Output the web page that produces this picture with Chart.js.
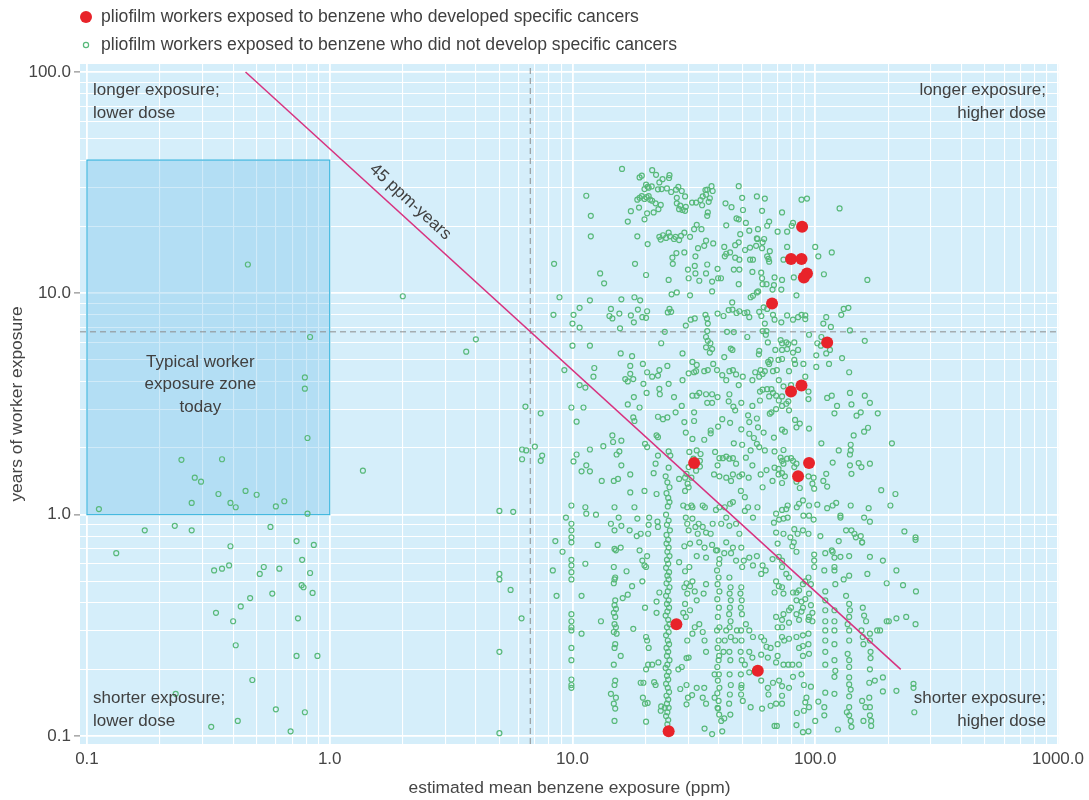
<!DOCTYPE html>
<html>
<head>
<meta charset="utf-8">
<script src="https://cdn.jsdelivr.net/npm/chart.js@4/dist/chart.umd.min.js"></script>
<style>
html, body { margin: 0; padding: 0; background: #fff; }
</style>
</head>
<body>
<canvas id="grafico" width="1089" height="800"></canvas>
<script>
// rótulos
const legendLabels = [
    "pliofilm workers exposed to benzene who developed specific cancers",
    "pliofilm workers exposed to benzene who did not develop specific cancers"
];
const xTickLabels = ["0.1", "1.0", "10.0", "100.0", "1000.0"];
const yTickLabels = ["0.1", "1.0", "10.0", "100.0"];
const xTitle = "estimated mean benzene exposure (ppm)";
const yTitle = "years of worker exposure";
const notaSupEsq = ["longer exposure;", "lower dose"];
const notaSupDir = ["longer exposure;", "higher dose"];
const notaInfEsq = ["shorter exposure;", "lower dose"];
const notaInfDir = ["shorter exposure;", "higher dose"];
const zonaTexto = ["Typical worker", "exposure zone", "today"];
const linhaTexto = "45 ppm-years";

// linha de 45 ppm-anos
const linhaPpm = [0.45, 225];
const linhaAnos = [100, 0.2];
// linhas tracejadas (raiz de 45)
const refPpm = 6.7;
const refAnos = 6.7;
// zona típica de hoje
const zonaPpm = [0.1, 1.0];
const zonaAnos = [1.0, 40];

// trabalhadores com câncer
const cancerPpm = [88.3, 79.5, 87.8, 92.5, 89.8, 66.4, 112, 79.5, 87.8, 94.3, 85, 31.7, 26.8, 58, 24.9];
const cancerAnos = [20, 14.3, 14.3, 12.3, 11.8, 9.0, 6.0, 3.6, 3.83, 1.71, 1.49, 1.71, 0.32, 0.197, 0.105];

// trabalhadores sem câncer [ppm, anos]
const semCancer = [
[16,36.5],[21.3,36],[18.9,33.4],[19.3,34],[22.1,34.3],[23.5,32.8],[25.1,34.2],[25,33.2],[22.8,31.7],[20.1,31],[20.4,30.3],[19.8,29.6],[20.6,30],[21.2,30.4],[22.5,29.5],[23.3,29.6],[24.5,29.8],[25.5,28.7],[26.7,29.4],[27.3,30.3],[28.2,29],[29.1,27.4],[26.9,27],[11.4,27.6],[18.9,27],[19.3,27.5],[19.8,26.7],[20.2,27.2],[20.9,26.5],[20.6,27.5],[21.3,26.2],[22,25.5],[23.1,25.1],[22.6,24],[21.6,23.2],[18.8,24.4],[17.4,23.5],[18.5,26.5],[20.3,23],[19.8,21.6],[16.9,21.1],[26.9,25.5],[27.8,24.9],[27.5,24],[28.4,23.8],[29.1,23.6],[29.3,24.6],[31.1,25.7],[32.3,25.7],[33.7,26.4],[34.4,27.4],[35.5,27.9],[36.8,26.9],[35.9,29.4],[37.4,30.5],[35.3,29.3],[37.8,29],[36.4,25.9],[34.2,25],[36.1,23.2],[35.9,22.4],[32.5,20.4],[31.7,19.5],[34,19.5],[11.9,22.4],[11.9,18.1],[48.4,30.5],[50,27],[42.7,25.5],[45.2,24.5],[50.4,23.8],[48.4,21.6],[47.4,21.8],[51.8,20.8],[43,20.3],[49.1,18.5],[53.5,19.2],[58.1,19.5],[57.8,17.6],
[22.8,18],[23.1,17.5],[23.6,18.3],[24.3,17.8],[24.9,18.8],[25.2,18.1],[26.2,17.6],[26.6,18],[27.5,17.4],[28,18.2],[28.9,18.8],[30.5,18],[18.5,18.1],[20.4,16.7],[32.9,16],[34.9,16.4],[35.5,17.3],[38,16.8],[42.2,16.2],[43,15.1],[42.4,14.7],[44.6,15.3],[46.8,16.5],[48.4,17],[46.8,14.5],[48.7,14.2],[51.4,15.7],[53.9,16.1],[57.1,16.4],[57.5,17.7],[26.8,15.2],[28.9,15.3],[25.8,14.5],[25.9,13.6],[32.1,14.7],[35.9,13.5],[39.6,12.9],[29.9,12.8],[31.9,13.3],[32.1,12.3],[30.1,11.7],[33.3,11.4],[35.5,12.3],[37.6,11.3],[39.8,11.7],[40.9,11.7],[37.6,10.2],[46.2,12.8],[48.7,12.8],[48.4,11],[53.9,14.2],[55.4,14.2],[55.1,12.5],[18.1,13.6],[20.1,12.1],[13,12.3],[13.5,11.1],[24.9,11.5],[25.6,9.9],[26.9,10.1],[30.5,9.8],
[8.84,9.6],[11.8,9.3],[15.9,9.4],[18,9.6],[19,9.3],[10.7,8.6],[10.1,8.0],[14.4,8.5],[15.6,8.1],[14.2,7.9],[14.6,7.7],[17.4,7.95],[18.6,8.45],[17.9,7.4],[19.4,7.8],[20.1,7.75],[20.3,8.3],[25.1,8.5],[24.7,8.2],[25.5,8.25],[10,7.3],[10.7,7.0],[15.7,6.95],[24,6.7],[29.3,7.15],[30.7,7.6],[31.9,7.7],[35.3,8.0],[35.8,7.7],[36.1,7.3],[35.9,6.75],[39.6,8.1],[41.9,7.9],[44,8.4],[45.5,9.1],[45.6,8.45],[47.4,8.15],[48.7,8.3],[51.1,8.15],[52.5,8.2],[53.5,7.8],[54.2,9.6],[55.4,9.75],[57.5,10.1],[58.2,10.2],[43.3,6.7],[46.2,6.68],[52.5,6.35],[35.5,6.35],[36.1,6.1],[37,5.95],[35.5,5.7],[37.6,5.6],[36.8,5.4],[10,5.8],[11.8,5.8],[23.2,5.95],[15.8,5.35],[17.6,5.2],[28.4,5.35],[44.9,5.63],[45.6,5.55],[42.2,5.15],[58.8,5.5],[58.6,5.3],[8.4,13.6],[8.35,8.0],
[57.5,27.4],[62,26.8],[60.4,23.6],[73,23.2],[64.6,21.1],[63.4,20.2],[70,19],[76.6,19],[80,20.2],[81,20.8],[87.8,26.5],[92.5,26.8],[126,24.2],[61.6,17.6],[60.7,17],[60.4,16],[65,15.5],[76.6,16.2],[100,16.2],[103,14.7],[117,15.3],[63.4,14.7],[64.2,14.3],[64.6,13.9],[74,14.2],[59.9,12.4],[60.4,11.7],[68,11.8],[73,11.5],[81.6,11.8],[108.6,12.2],[164,11.5],[60.7,11.0],[63,11.0],[67.6,10.9],[66.7,10.4],[72.5,10.4],[83.7,9.8],[61.3,8.65],[58.8,8.25],[60,7.9],[63.4,8.5],[67,8.0],[68,7.6],[72.5,7.4],[76.6,7.95],[81,7.6],[85,7.8],[87.8,8.0],[91,7.95],[91,7.65],[62,7.3],[108,7.3],[111,7.8],[116,7.05],[128,8.0],[131,8.5],[137,8.6],[139,6.8],[60.7,6.75],[63,6.75],[62.6,6.5],[63.8,6.0],[72,6.15],[73,5.95],[76,6.0],[77.5,5.9],[82,6.0],[94.3,6.5],[106,6.35],[102,5.95],[105.5,5.8],[160,6.1],[68.5,5.55],[73,5.55],[76.6,5.6],[81,5.4],[85,5.55],[101,5.25],[111,5.35],[115,5.55],[129,5.1],[65.5,5.0],[70.6,5.0],[73,5.05],[82,5.0],
[9.26,4.5],[12.3,4.6],[12.2,4.2],[10.7,3.85],[11.3,3.75],[17.3,4.7],[17.3,4.33],[16.5,4.1],[16.9,4.0],[17.8,4.1],[19.5,4.8],[20.3,4.4],[21.3,4.2],[22.5,4.25],[22.8,4.5],[24.6,4.7],[19.6,3.9],[20.2,3.55],[22.8,3.7],[22.9,3.5],[24.9,3.9],[17.9,3.4],[16.9,3.15],[18.9,3.05],[9.9,3.05],[11.1,3.05],[10.4,2.63],[17.8,2.75],[18,2.65],[22.5,2.77],[23.6,2.7],[24.6,2.75],[26.6,2.9],[26.2,3.4],[28.4,4.05],[30.1,4.35],[31.7,4.4],[32.3,4.45],[31.2,4.9],[32.5,4.75],[28.2,3.1],[28.9,2.62],[31.7,2.9],[31.7,2.65],[31.2,3.45],[32.5,3.45],[33.3,3.55],[34.9,4.45],[36.1,4.5],[39.4,4.5],[38,4.8],[35.5,3.5],[37.6,3.5],[39.6,3.4],[37.6,3.2],[35.9,3.2],[41.4,4.27],[43,4.05],[44.3,4.45],[45.8,4.5],[47.2,4.3],[48.4,3.85],[44.3,3.5],[44,3.25],[46,3.08],[46.8,2.96],[41.4,2.7],[44.6,2.6],[37.1,2.4],[39.8,2.5],[49.6,2.43],[52.9,2.81],[55.1,3.1],[55.1,4.05],[49.6,3.2],[50.3,4.2],[56.6,4.4],[53.5,2.62],[57.5,2.72],
[14.6,2.28],[14.7,2.13],[15.9,2.16],[11.8,1.97],[13.4,2.04],[10.1,1.74],[10.4,1.87],[10.9,1.57],[11.4,1.67],[11.8,1.57],[13.2,1.42],[14.8,1.42],[15.4,1.45],[15.6,1.93],[15.2,1.87],[15.9,1.67],[17.3,1.52],[19.9,2.09],[20.3,2.02],[22.2,2.28],[22.5,2.24],[22,1.7],[21.6,1.54],[22.5,1.85],[24.9,1.93],[25.3,1.85],[24.9,1.63],[17.3,1.26],[19.8,1.28],[22.2,1.24],[14.9,1.08],[14.4,0.91],[14.9,0.85],[11.3,1.08],[11.4,1.01],[12.5,1.0],[9.9,1.1],[9.4,0.97],[9.9,0.91],[9.9,0.85],[9.9,0.79],[9.9,0.75],[18,1.08],[18.5,0.96],[15.5,0.97],[15.9,0.89],[20.7,0.97],[20.6,0.9],[22.4,0.93],[22.5,0.88],[17.2,0.85],[18.4,0.8],[19.1,0.82],[20.5,0.82],
[24.2,1.49],[24.6,1.4],[25.1,1.33],[24.4,1.25],[24.8,1.19],[25.1,1.14],[24.7,1.09],[24.3,1.0],[24.9,0.94],[24.5,0.9],[25.2,0.85],[24.4,0.81],[24.8,0.77],
[27.5,1.45],[29.1,1.47],[29.8,1.38],[30.1,1.33],[29.1,1.28],[28.6,1.1],[29.7,1.08],[30.9,1.1],[31.2,1.08],[29.3,0.97],[31.2,0.96],[29.7,0.91],[32.1,0.88],[30.1,0.85],[32.8,0.82],[34.4,1.1],[35.1,1.08],[33.1,0.91],[34.4,0.88],[35.5,0.83],[37.1,0.82],[37.8,0.91],[39,1.05],[40.3,1.08],[42.4,1.08],[44.6,1.12],[45.8,1.14],[43,0.97],[41,0.91],[44.3,0.89],[47.2,0.91],[48.7,0.82],
[30.3,1.92],[32.5,1.95],[33.7,1.88],[33.5,1.75],[33.5,1.65],[30.1,1.64],[32.3,1.58],[29.5,1.53],[30.9,1.47],[31.5,1.79],[38.7,1.92],[40.3,1.8],[41.6,1.8],[43,1.83],[44.3,1.79],[45.8,1.8],[47.2,1.7],[39.6,1.67],[38.3,1.52],[40.3,1.49],[43,1.47],[45.8,1.52],[48.7,1.49],[50,1.52],[45,1.42],[49.4,1.28],[51.3,1.2],[53.2,1.47],[55.1,1.67],[51.8,1.81],[54.2,1.95],[50,2.07],[46.2,2.1],[34.9,2.18],[37.1,2.33],[29.3,2.35],[31.2,2.2],[53.5,2.32],[55.9,2.22],[58.1,2.48],[57.5,2.09],[51.3,1.04],[52.9,1.08],[55.4,0.97],[57.8,1.08],
[59.6,4.5],[58.8,4.2],[60.7,4.32],[62,4.45],[64.6,4.8],[64,4.9],[67,4.45],[69.5,4.5],[70.8,4.05],[74,3.8],[78,4.45],[82.6,4.8],[89.4,4.8],[91,4.2],[93.8,3.6],[93.8,3.33],[101,4.65],[114,4.8],[138,4.4],[60.7,3.67],[63.4,3.69],[66,3.69],[67,3.55],[64.6,3.42],[69,3.45],[73,3.42],[70.8,3.28],[73,3.1],[76,3.17],[77.5,3.25],[59.2,3.28],[59.2,3.6],[66,2.9],[69,3.0],[65,2.86],[78,2.96],[79.5,3.85],
[82.6,2.68],[86.4,2.58],[94.3,2.45],[83.7,2.48],[73,2.42],[75,2.37],[67.6,2.23],[61.3,2.35],[58.8,2.02],[62,1.95],[68,1.93],[74,1.96],[72,1.81],[73,1.75],[76.6,1.79],[79.5,1.8],[81,1.75],[83.7,1.7],[82,1.64],[74,1.7],[70.6,1.61],[68,1.63],[63,1.59],[59.6,1.52],[60.7,1.33],[66.7,1.42],[70.6,1.52],[73,1.54],[75,1.49],[73,1.39],[83.7,1.41],[86.4,1.32],[93.8,1.49],[98.5,1.47],[97.4,1.38],[99,1.31],[102,1.11],[94.3,1.1],[89,1.16],[85.8,1.12],[84,1.08],[77,1.1],[76,1.06],[73,1.05],[69,1.01],[71,0.95],[74,0.96],[77,0.97],[67.6,0.92],[69,0.83],[74,0.82],[79,0.79],[82,0.86],[84.6,0.82],[89,0.85],[93.8,0.82],[98.5,0.95],[94.3,0.99],[89.4,0.99],
[106,2.1],[112,3.37],[117,3.45],[123,3.1],[120,2.87],[139,3.55],[141,3.15],[148,2.8],[154,2.9],[168,3.2],[160,3.45],[181,2.87],[159,2.37],[165,2.47],[144,2.28],[125,1.95],[118,1.72],[140,2.07],[140,1.95],[139,1.87],[139,1.67],[141,1.53],[151,1.71],[155,1.64],[168,1.7],[108,1.42],[111,1.53],[112,1.34],[122,1.13],[118,1.1],[112,1.07],[127,0.99],[127,0.97],[140,1.1],[166,1.07],[159,0.97],[168,0.93],[187,1.29],[214,1.24],[204,1.1],[207,2.1],[134,0.85],[141,0.85],[145,0.82],[154,0.8],[156,0.75],[147,0.79],[105,0.8],[125,0.76],[117,0.69],[259,0.79],[259,0.77],[233,0.84],
[9.9,0.625],[9.9,0.59],[9.9,0.55],[9.9,0.51],[9.9,0.355],[9.9,0.33],[9.9,0.31],[9.9,0.3],[9.9,0.25],[9.9,0.22],[9.9,0.18],[9.9,0.17],[9.9,0.165],[9.1,0.68],[10.9,0.43],[11.3,0.6],[10.9,0.29],[13.1,0.33],[12.7,0.73],
[14.9,0.7],[15.1,0.69],[14.8,0.58],[15,0.52],[14.9,0.51],[14.8,0.49],[15,0.41],[14.9,0.39],[15.1,0.375],[14.8,0.36],[15,0.345],[14.9,0.32],[15.1,0.31],[14.8,0.295],[15,0.26],[14.9,0.25],[14.8,0.21],[15,0.178],[14.9,0.17],[15.1,0.149],[14.8,0.14],[15,0.133],[14.9,0.117],[15.8,0.23],[14.4,0.155],[15.2,0.29],[16.1,0.42],[16.9,0.435],[17.6,0.475],[16.7,0.555],[17.8,0.305],
[18.9,0.69],[19.4,0.62],[19.8,0.59],[20.1,0.58],[19.4,0.5],[20.3,0.65],[19.9,0.38],[20.1,0.28],[20.3,0.27],[20.6,0.25],[20.1,0.2],[20.5,0.21],[19.1,0.174],[19.6,0.174],[19.5,0.149],[19.9,0.14],[20.4,0.141],[20.1,0.116],[15.8,0.71],[22.8,0.445],[22.2,0.405],[22.2,0.36],[21.3,0.21],[22.6,0.215],[22,0.17],[21.7,0.175],[23.2,0.136],[23.1,0.13],[24,0.134],
[24.4,0.74],[24.9,0.71],[24.6,0.68],[25.1,0.65],[24.5,0.625],[24.8,0.6],[24.3,0.575],[25,0.55],[24.6,0.53],[24.9,0.51],[24.4,0.49],[25.1,0.47],[24.7,0.45],[24.3,0.43],[24.9,0.41],[24.5,0.395],[25,0.38],[24.6,0.365],[24.2,0.35],[24.8,0.335],[25.1,0.32],[24.5,0.31],[24.9,0.295],[24.3,0.285],[24.7,0.27],[25,0.26],[24.4,0.25],[24.8,0.24],[24.5,0.23],[25.1,0.22],[24.6,0.21],[24.2,0.203],[24.9,0.195],[24.5,0.187],[24.8,0.18],[24.3,0.172],[24.7,0.165],[25,0.158],[24.4,0.152],[24.8,0.146],[24.5,0.14],[24.9,0.134],[24.6,0.128],[24.3,0.123],[24.8,0.118],[24.6,0.113],
[27.5,0.61],[28.9,0.72],[30.5,0.74],[32.5,0.65],[33.3,0.75],[35,0.71],[35.5,0.64],[37.6,0.73],[39,0.69],[40.3,0.63],[42.2,0.67],[43,0.75],[45,0.67],[45.8,0.71],[49.6,0.71],[50.8,0.62],[53.5,0.64],[57.5,0.65],[55.4,0.59],[50,0.58],[47.2,0.62],[29.1,0.555],[30.3,0.58],[29.5,0.49],[28.9,0.47],[30.5,0.475],[31.2,0.5],[29.7,0.44],[31.9,0.45],[34.7,0.44],[35.5,0.485],[32.5,0.41],[29.1,0.395],[28.6,0.36],[30.5,0.37],[29.3,0.345],
[39.5,0.69],[40.2,0.6],[39.4,0.56],[40,0.52],[39.6,0.485],[40.3,0.45],[39.5,0.415],[40.1,0.38],[39.7,0.345],[40.3,0.31],[39.4,0.3],[40,0.27],[39.6,0.25],[40.2,0.23],[39.5,0.205],[40.1,0.19],[39.7,0.178],[40.3,0.165],[39.5,0.156],[40,0.144],[39.6,0.134],[40.2,0.125],
[44.3,0.52],[44.8,0.47],[44.4,0.44],[44.9,0.41],[44.5,0.38],[44.2,0.355],[44.8,0.33],[44.4,0.31],[44.9,0.28],[44.3,0.24],[44.7,0.22],[44.4,0.19],[44.9,0.17],[44.5,0.154],[44.2,0.14],[44.7,0.125],
[49.6,0.47],[49.2,0.44],[49.8,0.41],[49.4,0.38],[49.9,0.355],[49.5,0.3],[49.7,0.27],[49.3,0.24],[49.8,0.22],[49.4,0.19],[49.7,0.17],[49.5,0.154],
[33.3,0.32],[34.4,0.295],[35,0.27],[35.5,0.24],[31.9,0.31],[29.7,0.27],[31.2,0.29],[29.5,0.225],[30.1,0.226],[28.2,0.205],[27.3,0.2],[29.5,0.17],[27.8,0.163],[29.9,0.149],[29.5,0.139],[31.1,0.153],[32.5,0.165],[34.9,0.165],[34.4,0.149],[35.5,0.14],[35,0.108],[37.6,0.102],[41.4,0.105],[42.2,0.12],[41,0.117],[39.8,0.133],[38.5,0.149],[38.5,0.19],[40,0.22],[41.9,0.24],[42.4,0.27],[43,0.3],[46.8,0.27],[47.6,0.3],[51.8,0.32],[53.5,0.3],[55.4,0.28],[53.5,0.24],[55.1,0.226],[51.3,0.21],[53.5,0.194],[56.6,0.194],[54.2,0.135],[50.3,0.144],[49.6,0.165],
[70,0.74],[80.5,0.72],[83.7,0.68],[81.6,0.75],[99,0.66],[99,0.62],[99,0.58],[110,0.67],[118,0.68],[120,0.64],[127,0.645],[138,0.65],[156,0.75],[168,0.645],[190,0.62],[216,0.56],[230,0.48],[260,0.45],[197,0.49],[164,0.54],[138,0.53],[131,0.51],[134,0.43],[109,0.56],[120,0.58],[120,0.56],[110,0.45],[121,0.485],
[60.7,0.59],[62.5,0.56],[59.9,0.54],[66.7,0.63],[70.8,0.645],[73,0.62],[73,0.58],[76,0.54],[78,0.52],[69,0.5],[70.8,0.475],[68,0.445],[73,0.47],[74,0.44],[81,0.445],[83.7,0.445],[85.8,0.455],[89,0.485],[91,0.5],[93.8,0.52],[96,0.485],[94.3,0.44],[91,0.415],[87.8,0.405],[83.7,0.41],[79.5,0.38],[89,0.38],[96,0.39],[97.4,0.36],[94.3,0.345],[87.8,0.365],[83.7,0.355],[78,0.37],[74,0.355],[73,0.335],[69,0.345],[70,0.31],[73,0.31],[78,0.325],[85.8,0.335],[93.8,0.335],[97.4,0.33],[93.8,0.29],[89,0.285],[83.7,0.28],[78,0.275],[73,0.28],[74.5,0.27],[70,0.26],[65.5,0.25],[63,0.253],[61.6,0.27],[59.9,0.28],[63.8,0.226],[59.9,0.233],[70,0.23],[69,0.215],[74,0.21],[77.5,0.21],[80.5,0.21],[85.8,0.21],[89,0.23],[94.3,0.235],[85.8,0.25],[89,0.255],[93.8,0.26],
[59.9,0.178],[63.8,0.165],[67,0.174],[71,0.178],[73,0.168],[78,0.165],[73,0.152],[73,0.14],[69,0.14],[64.2,0.154],[65.5,0.137],[60.4,0.133],[81,0.185],[87.8,0.19],[89.8,0.17],[96,0.167],[92,0.149],[91,0.142],[94.3,0.135],[89.8,0.13],[84,0.127],[83.7,0.112],[89,0.104],[93.8,0.105],[69.5,0.111],[68,0.111],[100,0.117],[103,0.143],[109,0.135],[109,0.124],[120,0.155],[120,0.185],[121,0.197],[110,0.157],[124,0.107],[138,0.184],[138,0.171],[140,0.162],[138,0.151],[138,0.135],[138,0.124],[140,0.117],[141,0.11],[135,0.128],[156,0.144],[167,0.149],[168,0.135],[168,0.124],[170,0.117],[170,0.111],[158,0.117],[161,0.135],[190,0.184],[190,0.159],[168,0.2],[176,0.178],[167,0.174],[216,0.16],[254,0.172],[254,0.165],[256,0.128],[201,0.33],[216,0.34],[237,0.345],[259,0.32],[180,0.3],[168,0.29],[168,0.27],[169,0.24],[169,0.225],[158,0.26],
[138,0.395],[139,0.37],[138,0.345],[136,0.32],[138,0.3],[138,0.27],[136,0.235],[138,0.22],[138,0.205],[110,0.41],[110,0.37],[110,0.33],[110,0.3],[110,0.27],[110,0.24],[110,0.21],[120,0.37],[120,0.33],[120,0.3],[120,0.26],[120,0.22],[157,0.38],[162,0.33],[155,0.3],[159,0.35],[157,0.28],[185,0.3],[197,0.33],
[0.46,13.5],[2.0,9.7],[0.83,6.35],[4.0,6.2],[3.65,5.45],[0.79,4.17],[0.79,3.71],[0.81,2.22],[6.4,3.08],[7.4,2.87],[6.2,1.97],[6.45,1.95],[6.2,1.78],[7.0,2.03],[7.5,1.85],[7.4,1.75],[1.37,1.58],[5.0,1.04],[5.7,1.03],[0.112,1.06],[0.245,1.77],[0.36,1.78],[0.278,1.47],[0.295,1.41],[0.348,1.24],[0.27,1.13],[0.39,1.13],[0.41,1.08],[0.45,1.28],[0.5,1.23],[0.6,1.09],[0.65,1.15],[0.81,1.01],
[0.173,0.85],[0.23,0.89],[0.27,0.85],[0.57,0.88],[0.132,0.67],[0.39,0.72],[0.73,0.76],[0.86,0.73],[0.77,0.625],[0.334,0.56],[0.36,0.57],[0.385,0.59],[0.515,0.54],[0.535,0.58],[0.62,0.57],[0.83,0.545],[0.766,0.48],[0.78,0.47],[0.58,0.44],[0.85,0.443],[0.47,0.42],[0.43,0.385],[0.34,0.36],[0.4,0.33],[0.74,0.34],[0.41,0.257],[0.73,0.23],[0.89,0.23],[0.48,0.179],[0.232,0.155],[0.6,0.132],[0.79,0.128],[0.418,0.117],[0.325,0.11],[0.69,0.105],
[5.0,0.54],[5.0,0.51],[5.56,0.457],[6.17,0.34],[5.0,0.24],[5.0,0.103],[8.3,0.56],[8.6,0.43],[8.5,0.76]
];

const fonte = "'Liberation Sans', Arial, sans-serif";
const corTexto = "#404040";

// marcas das grades: 1..9 em cada década
function ticksLog(min, max) {
    let lista = [];
    for (let e = -2; e <= 3; e++) {
        for (let m = 1; m < 10; m++) {
            let v = m * Math.pow(10, e);
            if (v >= min * 0.999 && v <= max * 1.001) lista.push({ value: v });
        }
    }
    return lista;
}
function ehDecada(v) {
    let l = Math.log10(v);
    return Math.abs(l - Math.round(l)) < 1e-6;
}

// fundo azul e zona típica
const fundoPlugin = {
    id: "fundo",
    beforeDraw(chart) {
        const { ctx, chartArea: a } = chart;
        ctx.save();
        ctx.fillStyle = "#d5eefa";
        ctx.fillRect(a.left, a.top, a.right - a.left, a.bottom - a.top);
        ctx.restore();
    },
    beforeDatasetsDraw(chart) {
        const { ctx, scales: { x, y } } = chart;
        let x0 = x.getPixelForValue(zonaPpm[0]), x1 = x.getPixelForValue(zonaPpm[1]);
        let y0 = y.getPixelForValue(zonaAnos[0]), y1 = y.getPixelForValue(zonaAnos[1]);
        ctx.save();
        ctx.fillStyle = "rgba(110,190,232,0.32)";
        ctx.fillRect(x0, y1, x1 - x0, y0 - y1);
        ctx.strokeStyle = "#3bb5de";
        ctx.lineWidth = 1.2;
        ctx.strokeRect(x0, y1, x1 - x0, y0 - y1);
        ctx.restore();
    }
};

// textos, rótulo da linha e legenda
const textosPlugin = {
    id: "textos",
    afterDatasetsDraw(chart) {
        const { ctx, chartArea: a, scales: { x, y } } = chart;
        ctx.save();
        ctx.font = "17px " + fonte;
        ctx.fillStyle = corTexto;
        ctx.textBaseline = "middle";

        ctx.textAlign = "left";
        notaSupEsq.forEach((t, i) => ctx.fillText(t, a.left + 13, a.top + 26 + i * 23));
        notaInfEsq.forEach((t, i) => ctx.fillText(t, a.left + 13, a.bottom - 46 + i * 23));
        ctx.textAlign = "right";
        notaSupDir.forEach((t, i) => ctx.fillText(t, a.right - 13, a.top + 26 + i * 23));
        notaInfDir.forEach((t, i) => ctx.fillText(t, a.right - 13, a.bottom - 46 + i * 23));

        // texto da zona
        ctx.textAlign = "center";
        let zx = (x.getPixelForValue(zonaPpm[0]) + x.getPixelForValue(zonaPpm[1])) / 2 - 8;
        let zy = y.getPixelForValue(4.9);
        zonaTexto.forEach((t, i) => ctx.fillText(t, zx, zy + i * 22.5));

        // rótulo inclinado da linha
        let px0 = x.getPixelForValue(linhaPpm[0]), py0 = y.getPixelForValue(linhaAnos[0]);
        let px1 = x.getPixelForValue(linhaPpm[1]), py1 = y.getPixelForValue(linhaAnos[1]);
        let ang = Math.atan2(py1 - py0, px1 - px0);
        let ax = x.getPixelForValue(1.95), ay = y.getPixelForValue(45 / 1.95);
        ctx.translate(ax, ay);
        ctx.rotate(ang);
        ctx.fillText(linhaTexto, 0, -15);
        ctx.restore();

        // legenda
        ctx.save();
        ctx.font = "17.6px " + fonte;
        ctx.textBaseline = "middle";
        ctx.textAlign = "left";
        let lx = a.left + 6;
        let ly = [a.top - 47, a.top - 19];
        ctx.beginPath();
        ctx.arc(lx, ly[0], 6, 0, Math.PI * 2);
        ctx.fillStyle = chart.data.datasets[0].backgroundColor;
        ctx.fill();
        ctx.beginPath();
        ctx.arc(lx, ly[1], 2.6, 0, Math.PI * 2);
        ctx.strokeStyle = chart.data.datasets[1].borderColor;
        ctx.lineWidth = 1.2;
        ctx.stroke();
        ctx.fillStyle = corTexto;
        legendLabels.forEach((t, i) => ctx.fillText(t, lx + 15, ly[i]));
        ctx.restore();
    }
};

const xMin = 0.0936, xMax = 1010, yMin = 0.092, yMax = 108.7;

new Chart(document.getElementById("grafico"), {
    type: "scatter",
    data: {
        datasets: [
            {
                label: legendLabels[0],
                data: cancerPpm.map((v, i) => ({ x: v, y: cancerAnos[i] })),
                backgroundColor: "#e8232a",
                borderWidth: 0,
                pointRadius: 6,
                order: 0
            },
            {
                label: legendLabels[1],
                data: semCancer.map(p => ({ x: p[0], y: p[1] })),
                backgroundColor: "rgba(0,0,0,0)",
                borderColor: "#58b97a",
                borderWidth: 1.2,
                pointRadius: 2.5,
                order: 2
            },
            {
                type: "line",
                label: linhaTexto,
                data: linhaPpm.map((v, i) => ({ x: v, y: linhaAnos[i] })),
                borderColor: "#d8327f",
                borderWidth: 1.5,
                pointRadius: 0,
                order: 1
            },
            {
                type: "line",
                label: "ref-x",
                data: [{ x: refPpm, y: yMin }, { x: refPpm, y: yMax }],
                borderColor: "#8c8c8c",
                borderWidth: 1,
                borderDash: [6, 4],
                pointRadius: 0,
                order: 3
            },
            {
                type: "line",
                label: "ref-y",
                data: [{ x: xMin, y: refAnos }, { x: xMax, y: refAnos }],
                borderColor: "#8c8c8c",
                borderWidth: 1,
                borderDash: [6, 4],
                pointRadius: 0,
                order: 3
            }
        ]
    },
    options: {
        responsive: false,
        animation: false,
        devicePixelRatio: 1,
        layout: { padding: { top: 64, right: 29, bottom: 0, left: 0 } },
        plugins: {
            legend: { display: false },
            tooltip: { enabled: false }
        },
        scales: {
            x: {
                type: "logarithmic",
                min: xMin,
                max: xMax,
                bounds: "data",
                afterBuildTicks: s => { s.ticks = ticksLog(xMin, xMax); },
                afterFit: s => { s.height = 56; },
                border: { display: false },
                grid: {
                    color: "#ffffff",
                    lineWidth: c => (c.tick && ehDecada(c.tick.value) ? 1.8 : 1.1),
                    drawTicks: false
                },
                ticks: {
                    autoSkip: false,
                    maxRotation: 0,
                    padding: 5,
                    color: "#454545",
                    font: { family: fonte, size: 17 },
                    callback: v => (ehDecada(v) ? xTickLabels[Math.round(Math.log10(v)) + 1] : "")
                },
                title: {
                    display: true,
                    text: xTitle,
                    color: "#454545",
                    font: { family: fonte, size: 17.4 },
                    padding: { top: 0, bottom: 1 }
                }
            },
            y: {
                type: "logarithmic",
                min: yMin,
                max: yMax,
                bounds: "data",
                afterBuildTicks: s => { s.ticks = ticksLog(yMin, yMax); },
                afterFit: s => { s.width = 80; },
                border: { display: false },
                grid: {
                    color: "#ffffff",
                    lineWidth: c => (c.tick && ehDecada(c.tick.value) ? 1.8 : 1.1),
                    tickColor: c => (c.tick && ehDecada(c.tick.value) ? "#777777" : "rgba(0,0,0,0)"),
                    tickLength: 6,
                    tickWidth: 1
                },
                ticks: {
                    autoSkip: false,
                    padding: 3,
                    color: "#454545",
                    font: { family: fonte, size: 17 },
                    callback: v => (ehDecada(v) ? yTickLabels[Math.round(Math.log10(v)) + 1] : "")
                },
                title: {
                    display: true,
                    text: yTitle,
                    color: "#454545",
                    font: { family: fonte, size: 17.4 },
                    padding: { top: 7, bottom: 0 }
                }
            }
        }
    },
    plugins: [fundoPlugin, textosPlugin]
});
</script>
</body>
</html>
